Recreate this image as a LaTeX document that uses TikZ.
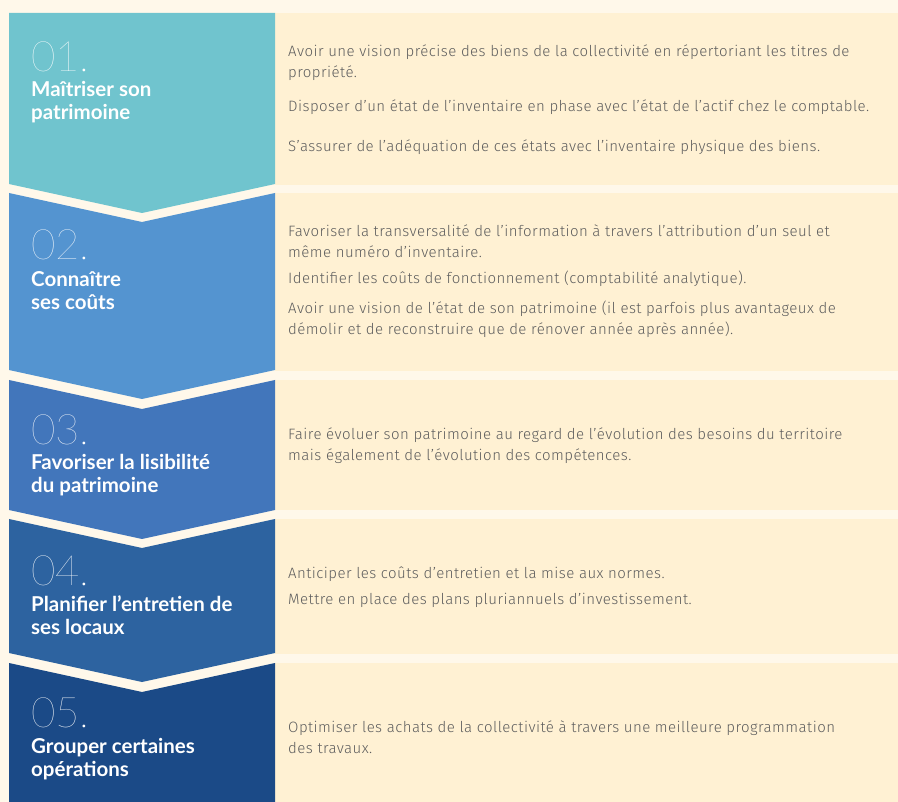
\documentclass[tikz,border=0pt]{standalone}
\usepackage{fontspec}
\setmainfont{Lato}[UprightFont={* Light},BoldFont={* Bold}]
\newfontfamily\thinfont{Lato Hairline}
\newfontfamily\bodyfont{Fira Sans Light}[LetterSpace=3]
\usepackage{xcolor}
\usetikzlibrary{positioning}

\definecolor{bgcream}{HTML}{FFF8EA}
\definecolor{panelcream}{HTML}{FFF1D3}
\definecolor{stepA}{HTML}{70C4CE}
\definecolor{stepB}{HTML}{5494D0}
\definecolor{stepC}{HTML}{4276BB}
\definecolor{stepD}{HTML}{2D63A0}
\definecolor{stepE}{HTML}{1B4A87}
\definecolor{bodygrey}{HTML}{5E5E5E}

\begin{document}
\begin{tikzpicture}[x=1pt,y=-1pt]
  \tikzstyle{panel}=[fill=panelcream]
  \tikzstyle{num}=[anchor=base west,inner sep=0pt,text=white,font=\thinfont\fontsize{42}{42}\selectfont]
  \tikzstyle{title}=[anchor=base west,inner sep=0pt,text=white,align=left,font=\bfseries\fontsize{20.5}{23}\selectfont]
  \tikzstyle{item}=[anchor=base west,inner sep=0pt,text=bodygrey,align=left,font=\bodyfont\fontsize{15}{21}\selectfont]

  \fill[bgcream] (0,0) rectangle (898,802);
  \useasboundingbox (0,0) rectangle (898,802);

  
  \fill[panel] (275,13) rectangle (898,185);
  \fill[panel] (275,193) rectangle (898,371);
  \fill[panel] (275,380) rectangle (898,510);
  \fill[panel] (275,519) rectangle (898,654);
  \fill[panel] (275,663) rectangle (898,802);

  
  \fill[stepA] (9,13) -- (275,13) -- (275,184) -- (142,213) -- (9,184) -- cycle;
  \fill[stepB] (9,193) -- (142,222) -- (275,193) -- (275,370) -- (142,399) -- (9,370) -- cycle;
  \fill[stepC] (9,380) -- (142,409) -- (275,380) -- (275,510) -- (142,539) -- (9,510) -- cycle;
  \fill[stepD] (9,519) -- (142,548) -- (275,519) -- (275,653) -- (142,682) -- (9,653) -- cycle;
  \fill[stepE] (9,663) -- (142,692) -- (275,663) -- (275,802) -- (9,802) -- cycle;

  
  \node[num] (n1) at (31,72) {01.};
  \node[title,below=48pt of n1.base west,anchor=base west] (t1) {Maîtriser son\\patrimoine};
  \node[num] (n2) at (31,260) {02.};
  \node[title,below=50pt of n2.base west,anchor=base west] (t2) {Connaître\\ses coûts};
  \node[num] (n3) at (31,445) {03.};
  \node[title,below=48pt of n3.base west,anchor=base west] (t3) {Favoriser la lisibilité\\du patrimoine};
  \node[num] (n4) at (31,585) {04.};
  \node[title,below=49pt of n4.base west,anchor=base west] (t4) {Planifier l’entretien de\\ses locaux};
  \node[num] (n5) at (31,727) {05.};
  \node[title,below=49pt of n5.base west,anchor=base west] (t5) {Grouper certaines\\opérations};

  
  \node[item] (a1) at (288,78) {Avoir une vision précise des biens de la collectivité en répertoriant les titres de\\propriété.};
  \node[item] (a2) at (288,112) {Disposer d’un état de l’inventaire en phase avec l’état de l’actif chez le comptable.};
  \node[item] (a3) at (288,152) {S’assurer de l’adéquation de ces états avec l’inventaire physique des biens.};

  \node[item] (b1) at (288,258) {Favoriser la transversalité de l’information à travers l’attribution d’un seul et\\même numéro d’inventaire.};
  \node[item] (b2) at (288,284) {Identifier les coûts de fonctionnement (comptabilité analytique).};
  \node[item] (b3) at (288,335) {Avoir une vision de l’état de son patrimoine (il est parfois plus avantageux de\\démolir et de reconstruire que de rénover année après année).};

  \node[item] (c1) at (288,461) {Faire évoluer son patrimoine au regard de l’évolution des besoins du territoire\\mais également de l’évolution des compétences.};

  \node[item] (d1) at (288,578) {Anticiper les coûts d’entretien et la mise aux normes.};
  \node[item] (d2) at (288,605) {Mettre en place des plans pluriannuels d’investissement.};

  \node[item] (e1) at (288,753) {Optimiser les achats de la collectivité à travers une meilleure programmation\\des travaux.};
\end{tikzpicture}
\end{document}
